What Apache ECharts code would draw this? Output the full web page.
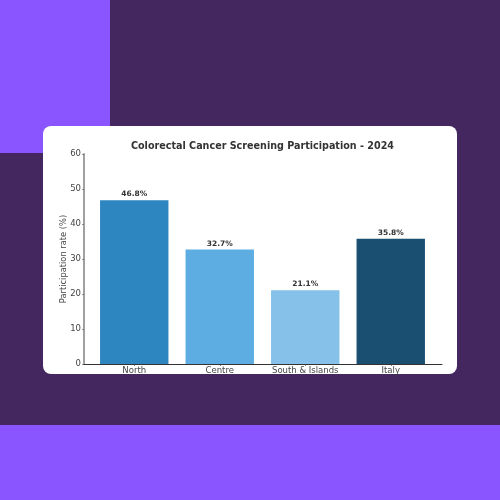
<!DOCTYPE html>
<html><head><meta charset="utf-8">
<style>html,body{margin:0;padding:0;background:#44275f}#c{width:500px;height:500px}</style>
<script src="https://cdn.jsdelivr.net/npm/echarts@6/dist/echarts.min.js"></script>
</head><body><div id="c"></div>
<script>
const categories = ['North', 'Centre', 'South & Islands', 'Italy'];
const values = [46.8, 32.7, 21.1, 35.8];
const barColors = ['#2e86c1', '#5dade2', '#85c1e9', '#1b4f72'];
const yTicks = [0, 10, 20, 30, 40, 50, 60];
const titleText = 'Colorectal Cancer Screening Participation - 2024';
const yName = 'Participation rate (%)';
const font = '"DejaVu Sans"';
const chart = echarts.init(document.getElementById('c'), null, {renderer: 'canvas'});
chart.setOption({
  animation: false,
  backgroundColor: '#44275f',
  graphic: [
    {type: 'rect', z: -10, shape: {x: 0, y: 0, width: 110, height: 153}, style: {fill: '#8a55ff'}},
    {type: 'rect', z: -10, shape: {x: 0, y: 425, width: 500, height: 75}, style: {fill: '#8a55ff'}},
    {type: 'rect', z: -9, shape: {x: 43, y: 126, width: 414, height: 248, r: 8}, style: {fill: '#ffffff'}}
  ],
  title: {
    text: titleText, left: 257.5, top: 136, textAlign: 'center',
    textStyle: {fontFamily: font, fontSize: 9.6, fontWeight: 'bold', color: '#333333'}
  },
  grid: [
    {left: 84, top: 154, width: 358, height: 210, containLabel: false},
    {left: 91.5, top: 154, width: 342, height: 210, containLabel: false}
  ],
  xAxis: [
    {type: 'value', gridIndex: 0, min: 0, max: 1, axisLine: {show: true, onZero: false, lineStyle: {color: '#333333', width: 1}},
     axisTick: {show: false}, axisLabel: {show: false}, splitLine: {show: false}},
    {type: 'category', gridIndex: 1, data: categories, axisLine: {show: false},
     axisTick: {show: true, alignWithLabel: true, length: 2, lineStyle: {color: '#333333', width: 0.6}},
     axisLabel: {fontFamily: font, fontSize: 8.5, color: '#444444', margin: 2, interval: 0}, splitLine: {show: false}}
  ],
  yAxis: [
    {type: 'value', gridIndex: 0, min: yTicks[0], max: yTicks[yTicks.length - 1], interval: 10,
     axisLine: {show: true, lineStyle: {color: '#a0a0a0', width: 2}},
     axisTick: {show: true, length: 2, lineStyle: {color: '#555555', width: 0.6}},
     axisLabel: {fontFamily: font, fontSize: 8.5, color: '#444444', margin: 3},
     splitLine: {show: false},
     name: yName, nameLocation: 'middle', nameGap: 16, nameRotate: 90, nameMoveOverlap: false,
     nameTextStyle: {fontFamily: font, fontSize: 8.3, color: '#444444'}},
    {type: 'value', gridIndex: 1, min: yTicks[0], max: yTicks[yTicks.length - 1], interval: 10, show: false}
  ],
  series: [{
    type: 'bar', xAxisIndex: 1, yAxisIndex: 1, barWidth: '80%',
    data: values.map((v, i) => ({value: v, itemStyle: {color: barColors[i]}})),
    label: {show: true, position: 'top', distance: 2, formatter: p => p.value.toFixed(1) + '%',
      fontFamily: font, fontSize: 7.5, fontWeight: 'bold', color: '#333333'}
  }]
});
</script></body></html>
